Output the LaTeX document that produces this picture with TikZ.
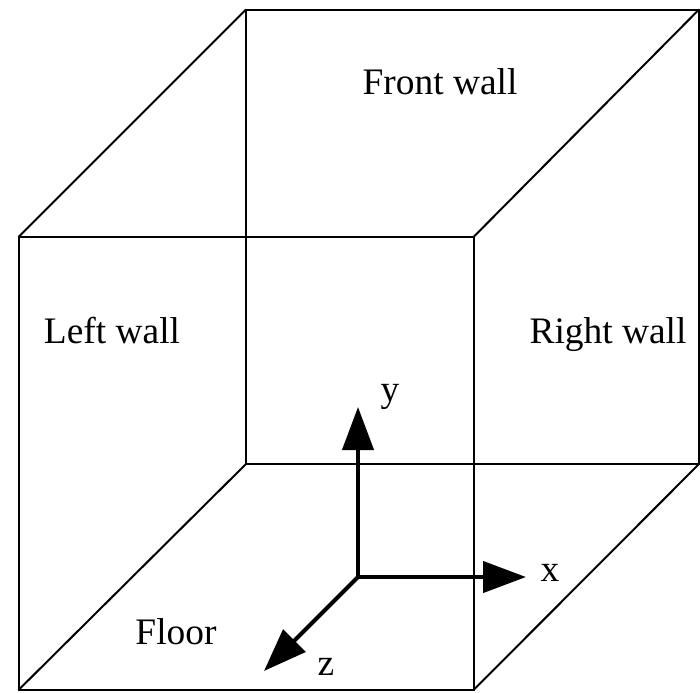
\documentclass[tikz,border=0pt]{standalone}
\usepackage{fontspec}
\setmainfont{Liberation Serif}
\usetikzlibrary{arrows.meta}
\begin{document}
\begin{tikzpicture}[x=0.5pt,y=-0.5pt,
  edge/.style={line width=1pt,line join=miter},
  axis/.style={line width=2.1pt,-{Triangle[length=21.5pt,width=15.5pt]}},
  lbl/.style={font=\fontsize{18.7pt}{22pt}\selectfont,anchor=base,inner sep=0pt}]
\useasboundingbox (0,0) rectangle (700,692);
% back square
\coordinate (b1) at (246,9.5);
\coordinate (b2) at (699,9.5);
\coordinate (b3) at (699,464);
\coordinate (b4) at (246,464);
% front square
\coordinate (f1) at (18.5,237);
\coordinate (f2) at (473.5,237);
\coordinate (f3) at (473.5,690);
\coordinate (f4) at (18.5,690);
\draw[edge] (b1) -- (b2) -- (b3) -- (b4) -- cycle;
\draw[edge] (f1) -- (f2) -- (f3) -- (f4) -- cycle;
\draw[edge] (f1) -- (b1);
\draw[edge] (f2) -- (b2);
\draw[edge] (f3) -- (b3);
\draw[edge] (f4) -- (b4);
% axes
\coordinate (O) at (358,577);
\coordinate (Y) at (358,407);
\coordinate (X) at (526,577);
\coordinate (Z) at (264,671);
\draw[axis] (O) -- (Y);
\draw[axis] (O) -- (X);
\draw[axis] (O) -- (Z);
% labels
\node[lbl] (front) at (440,94) {Front wall};
\node[lbl] (left) at (112,343) {Left wall};
\node[lbl] (right) at (608,343) {Right wall};
\node[lbl] (floor) at (176,644) {Floor};
\node[lbl] (ly) at (390,401) {y};
\node[lbl] (lx) at (550,581) {x};
\node[lbl] (lz) at (326,675) {z};
\end{tikzpicture}
\end{document}
